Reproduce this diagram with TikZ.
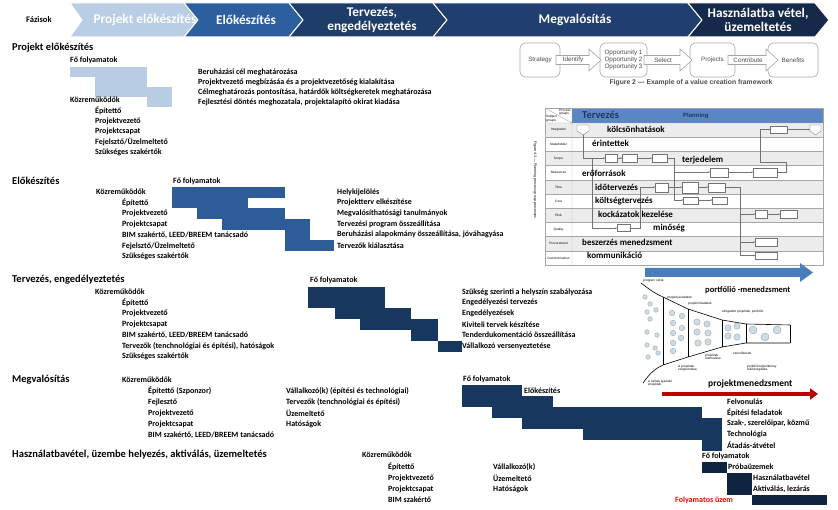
\documentclass[tikz,border=0pt]{standalone}
\usepackage{fontspec}
\setmainfont{Carlito}
\newfontfamily\arialfont{Liberation Sans}
\usetikzlibrary{positioning,calc,arrows.meta,shapes.geometric}

\definecolor{fazlight}{HTML}{B9CDE5}
\definecolor{fazmid}{HTML}{2D5E9E}
\definecolor{fazdark}{HTML}{1E3D68}
\definecolor{fazmeg}{HTML}{203F70}
\definecolor{fazhasz}{HTML}{15294A}
\definecolor{barlight}{HTML}{B8CCE4}
\definecolor{barmid}{HTML}{2E5C99}
\definecolor{bardark}{HTML}{17375E}
\definecolor{bardeep}{HTML}{0F2441}
\definecolor{tblblue}{HTML}{5B86C6}
\definecolor{tblgray}{HTML}{ECECEC}
\definecolor{tblnavy}{HTML}{1F3864}
\definecolor{arrblue}{HTML}{4A7EBB}
\definecolor{pmred}{HTML}{C00000}
\definecolor{bubble}{HTML}{C9DCE8}

\tikzset{
  txt/.style={anchor=west, inner sep=0, font=\fontsize{8}{9}\selectfont\bfseries},
  sect/.style={anchor=west, inner sep=0, font=\fontsize{10.5}{12}\selectfont\bfseries},
  phase/.style={inner sep=0, text=white, align=center, font=\fontsize{13.3}{14.5}\selectfont\bfseries},
  chev/.style={draw=white, line width=1pt},
  over/.style={anchor=west, inner sep=0, font=\fontsize{9}{10}\selectfont\bfseries},
  tiny/.style={inner sep=0, font=\arialfont\fontsize{3.2}{3.6}\selectfont, align=left},
  vbox/.style={draw=gray!70, rounded corners=5pt, line width=0.6pt},
  vtxt/.style={inner sep=0, text=black!70, align=center, font=\arialfont\fontsize{6.3}{7}\selectfont},
  varrow/.style={draw=gray!70, fill=white, line width=0.6pt},
  pbox/.style={draw=black!55, line width=0.3pt, fill=white},
  pline/.style={draw=black!55, line width=0.3pt, -{Stealth[length=1.5pt, width=1.5pt]}},
  bub/.style={draw=gray!80, fill=bubble, line width=0.3pt}
}

\begin{document}
\begin{tikzpicture}[x=1pt, y=-1pt]
\useasboundingbox (0,0) rectangle (838,510);

% fazisok
\node[txt, font=\fontsize{8.5}{9}\selectfont\bfseries] (faz) at (26,20) {Fázisok};
\filldraw[chev, fill=fazlight] (70,3) -- (184,3) -- (198,20) -- (184,37) -- (70,37) -- (82,20) -- cycle;
\node[phase] (ph1) at (145,20) {Projekt előkészítés};
\filldraw[chev, fill=fazmid] (184,3) -- (289,3) -- (303,20) -- (289,37) -- (184,37) -- (198,20) -- cycle;
\node[phase] (ph2) at (246,20) {Előkészítés};
\filldraw[chev, fill=fazdark] (289,3) -- (433,3) -- (447,20) -- (433,37) -- (289,37) -- (303,20) -- cycle;
\node[phase] (ph3) at (372,20) {Tervezés,\\engedélyeztetés};
\filldraw[chev, fill=fazmeg] (433,3) -- (688,3) -- (702,20) -- (688,37) -- (433,37) -- (447,20) -- cycle;
\node[phase] (ph4) at (575,20) {Megvalósítás};
\filldraw[chev, fill=fazhasz] (688,3) -- (815,3) -- (829,20) -- (815,37) -- (688,37) -- (702,20) -- cycle;
\node[phase] (ph5) at (758,20) {Használatba vétel,\\üzemeltetés};

% projekt elokeszites
\node[sect] (pe-cim) at (12,48) {Projekt előkészítés};
\node[txt] (pe-fo) at (70,60) {Fő folyamatok};
\fill[barlight] (70,67) rectangle (147,77);
\fill[barlight] (95,77) rectangle (147,87);
\fill[barlight] (95,87) rectangle (172,97);
\fill[barlight] (147,97) rectangle (172,107);
\foreach \t [count=\i] in {Beruházási cél meghatározása,
    Projektvezető megbízásáa és a projektvezetőség kialakítása,
    {Célmeghatározás pontosítása, határdők költségkeretek meghatározása},
    {Fejlesztési döntés meghozatala, projektalapító okirat kiadása}}
  \node[txt] (pe-f\i) at (198,{62+10*\i}) {\t};
\node[txt] (pe-kozr) at (70,100) {Közreműködők};
\foreach \t [count=\i] in {Építettő, Projektvezető, Projektcsapat, Fejelsztő/Üzelmeltető, Szükséges szakértők}
  \node[txt] (pe-k\i) at (95,{100+10.5*\i}) {\t};

% elokeszites
\node[sect] (el-cim) at (12,181) {Előkészítés};
\node[txt] (el-fo) at (173,181) {Fő folyamatok};
\node[txt] (el-kozr) at (96,192) {Közreműködők};
\foreach \t [count=\i] in {Építettő, Projektvezető, Projektcsapat, {BIM szakértő, LEED/BREEM tanácsadó},
    Fejelsztő/Üzelmeltető, Szükséges szakértők}
  \node[txt] (el-k\i) at (122,{192+10.7*\i}) {\t};
\fill[barmid] (172,187) rectangle (285,198);
\fill[barmid] (172,198) rectangle (248,208);
\fill[barmid] (197,208) rectangle (285,219);
\fill[barmid] (222,219) rectangle (310,230);
\fill[barmid] (285,230) rectangle (310,240);
\fill[barmid] (285,240) rectangle (334,251);
\foreach \t [count=\i] in {Helykijelölés, Projektterv elkészítése, Megvalósíthatósági tanulmányok,
    Tervezési program összeállítása, {Beruházási alapokmány összeállítása, jóváhagyása}, Tervezők kiálasztása}
  \node[txt] (el-f\i) at (337,{181.3+10.7*\i}) {\t};

% tervezes
\node[sect] (te-cim) at (12,280) {Tervezés, engedélyeztetés};
\node[txt] (te-fo) at (310,280) {Fő folyamatok};
\node[txt] (te-kozr) at (95,292) {Közreműködők};
\foreach \t [count=\i] in {Építettő, Projektvezető, Projektcsapat, {BIM szakértő, LEED/BREEM tanácsadó},
    {Tervezők (tenchnológiai és építési), hatóságok}, Szükséges szakértők}
  \node[txt] (te-k\i) at (122,{292+10.8*\i}) {\t};
\fill[bardark] (308,287) rectangle (385,308);
\fill[bardark] (335,308) rectangle (411,319);
\fill[bardark] (360,319) rectangle (438,330);
\fill[bardark] (411,330) rectangle (438,341);
\fill[bardark] (438,341) rectangle (462,352);
\foreach \t [count=\i] in {Szükség szerinti a helyszín szabályozása, Engedélyezési tervezés, Engedélyezések,
    Kiviteli tervek készítése, Tenderdukomentáció összeállítása, Vállalkozó versenyeztetése}
  \node[txt] (te-f\i) at (462,{281.2+10.8*\i}) {\t};

% megvalositas
\node[sect] (me-cim) at (12,380) {Megvalósítás};
\node[txt] (me-kozr) at (122,380) {Közreműködők};
\foreach \t [count=\i] in {Építettő (Szponzor), Fejlesztő, Projektvezető, Projektcsapat,
    {BIM szakértő, LEED/BREEM tanácsadó}}
  \node[txt] (me-k\i) at (148,{380+11*\i}) {\t};
\foreach \t [count=\i] in {Vállalkozó(k) (építési és technológiai), Tervezők (tenchnológiai és építési),
    Üzemeltető, Hatóságok}
  \node[txt] (me-v\i) at (286,{380+11*\i}) {\t};
\node[txt] (me-fo) at (463,379) {Fő folyamatok};
\fill[bardark] (462,385) rectangle (522,396);
\fill[bardark] (462,396) rectangle (553,407);
\fill[bardark] (492,407) rectangle (702,418);
\fill[bardark] (522,418) rectangle (722,429);
\fill[bardark] (583,429) rectangle (722,440);
\fill[bardark] (702,440) rectangle (722,451);
\node[txt] (me-el) at (524,391) {Előkészítés};
\foreach \t [count=\i] in {Felvonulás, Építési feladatok, {Szak-, szerelőipar, közmű}, Technológia, Átadás-átvétel}
  \node[txt] (me-f\i) at (727,{391+10.8*\i}) {\t};

% hasznalatbavetel
\node[sect] (ha-cim) at (12,455) {Használatbavétel, üzembe helyezés, aktiválás, üzemeltetés};
\node[txt] (ha-kozr) at (362,455) {Közreműködők};
\foreach \t [count=\i] in {Építettő, Projektvezető, Projektcsapat, BIM szakértő}
  \node[txt] (ha-k\i) at (388,{456+11*\i}) {\t};
\foreach \t [count=\i] in {Vállalkozó(k), Üzemeltető, Hatóságok}
  \node[txt] (ha-v\i) at (493,{456+11*\i}) {\t};
\node[txt] (ha-fo) at (702,456) {Fő folyamatok};
\fill[bardeep] (702,462) rectangle (727,473);
\fill[bardeep] (727,473) rectangle (752,495);
\fill[bardeep] (752,495) rectangle (827,505);
\node[txt] (ha-f1) at (728,467) {Próbaüzemek};
\node[txt] (ha-f2) at (753,478) {Használatbavétel};
\node[txt] (ha-f3) at (753,489) {Aktiválás, lezárás};
\node[txt, text=red] (ha-uz) at (675,500) {Folyamatos üzem};

% value creation framework
\draw[vbox] (520,43) rectangle (560,77);
\draw[vbox] (600,43) rectangle (647,77);
\draw[vbox] (690,43) rectangle (735,77);
\draw[vbox] (768,43) rectangle (818,77);
\filldraw[varrow] (556,55.5) -- (589,55.5) -- (589,49) -- (601,60) -- (589,71) -- (589,64.5) -- (556,64.5) -- cycle;
\filldraw[varrow] (644,55.5) -- (680,55.5) -- (680,49) -- (692,60) -- (680,71) -- (680,64.5) -- (644,64.5) -- cycle;
\filldraw[varrow] (728,55.5) -- (766,55.5) -- (766,49) -- (778,60) -- (766,71) -- (766,64.5) -- (728,64.5) -- cycle;
\node[vtxt] (vc-str) at (540,60) {Strategy};
\node[vtxt] (vc-idf) at (573,60) {Identify};
\node[vtxt] (vc-opp) at (623.5,60) {Opportunity 1\\Opportunity 2\\Opportunity 3};
\node[vtxt] (vc-sel) at (663,60) {Select};
\node[vtxt] (vc-prj) at (712.5,60) {Projects};
\node[vtxt] (vc-con) at (748,60) {Contribute};
\node[vtxt] (vc-ben) at (793,60) {Benefits};
\node[vtxt, font=\arialfont\bfseries\fontsize{6.8}{7.5}\selectfont] (vc-cap) at (691,83) {Figure 2 — Example of a value creation framework};

% planning table
\fill[tblblue] (572,108) rectangle (823,123);
\foreach \r in {0,2,4,6,8}
  \fill[tblgray] (545,{123+14.2*\r}) rectangle (823,{137.2+14.2*\r});
\foreach \r in {1,...,9}
  \draw[gray!70, line width=0.3pt] (545,{123+14.2*\r}) -- (823,{123+14.2*\r});
\draw[gray!70, line width=0.4pt] (545,108) rectangle (823,265);
\draw[gray!70, line width=0.4pt] (545,123) -- (823,123) (572,108) -- (572,265) (545,108) -- (572,123);
\node[tiny, anchor=north east] (pt-pg) at (571,109) {Process\\groups};
\node[tiny, anchor=south west] (pt-sg) at (546,122) {Subject\\groups};
\foreach \n [count=\i] in {Integration, Stakeholder, Scope, Resources, Time, Cost, Risk, Quality,
    Procurement, Communication}
  \node[tiny] (pt-r\i) at (558.5,{115.9+14.2*\i}) {\n};
\node[tiny, rotate=-90, font=\arialfont\fontsize{3.6}{4}\selectfont] (pt-cap) at (535,180)
  {Figure 4-3 — Planning process group processes};
% process boxes
\draw[pbox] (577,125) -- (589,125) -- (589,131) -- (583,135) -- (577,131) -- cycle;
\draw[pbox] (810,125) -- (821,125) -- (821,131) -- (815.5,135) -- (810,131) -- cycle;
\foreach \a/\b/\c/\d in {770/126/787/133, 605/154/617/162, 622/154/637/162, 652/154/667/162,
    710/168/728/177, 753/168/777/177, 655/183/668/192, 682/182/698/193, 708/183/725/192,
    683/197/698/204, 712/197/727/204, 755/210/767/218, 780/210/797/218, 617/224/630/231,
    755/238/777/246, 755/252/777/259}
  \draw[pbox] (\a,\b) rectangle (\c,\d);
\draw[pline] (583,135) -- (583,158) -- (605,158);
\draw[pline] (617,158) -- (622,158);
\draw[pline] (637,158) -- (652,158);
\draw[pline] (592,158) -- (592,228) -- (617,228);
\draw[pline] (630,228) -- (640,228) -- (640,187) -- (655,187);
\draw[pline] (667,158) -- (674,158) -- (674,172) -- (710,172);
\draw[pline] (674,172) -- (674,200) -- (683,200);
\draw[pline] (668,187) -- (682,187);
\draw[pline] (698,187) -- (708,187);
\draw[pline] (698,200) -- (712,200);
\draw[pline] (728,172) -- (753,172);
\draw[pline] (777,172) -- (786,172) -- (786,162) -- (760,162) -- (760,129.5) -- (770,129.5);
\draw[pline] (787,129.5) -- (810,129.5);
\draw[pline] (725,187) -- (740,187) -- (740,255.5) -- (755,255.5);
\draw[pline] (740,214) -- (755,214);
\draw[pline] (740,242) -- (755,242);
\draw[pline] (767,214) -- (780,214);
% overlay labels
\node[over, font=\fontsize{10.5}{12}\selectfont\bfseries, text=tblnavy] (pt-terv) at (582,115) {Tervezés};
\node[over, font=\arialfont\bfseries\fontsize{6}{7}\selectfont, text=tblnavy] (pt-plan) at (683,116) {Planning};
\node[over] (pt-o1) at (607,129) {kölcsönhatások};
\node[over] (pt-o2) at (592,143) {érintettek};
\node[over] (pt-o3) at (682,160) {terjedelem};
\node[over] (pt-o4) at (582,173) {erőforrások};
\node[over] (pt-o5) at (595,187) {időtervezés};
\node[over] (pt-o6) at (595,201) {költségtervezés};
\node[over] (pt-o7) at (598,214) {kockázatok kezelése};
\node[over] (pt-o8) at (653,228) {minőség};
\node[over] (pt-o9) at (582,242) {beszerzés menedzsment};
\node[over] (pt-o10) at (587,255) {kommunikáció};

% portfolio arrow
\fill[arrblue] (645,268) -- (800,268) -- (800,263) -- (813,272.5) -- (800,282) -- (800,277) -- (645,277) -- cycle;

% funnel
\draw[line width=0.6pt] (641,283) .. controls (650,290) and (656,294) .. (663,297) -- (688,309) -- (722,320) -- (746,324) -- (790,325);
\draw[line width=0.6pt] (643,383) .. controls (650,373) and (656,368) .. (663,365) -- (688,357) -- (722,347) -- (746,343) -- (790,343);
\draw[line width=0.6pt] (663,297) -- (663,365) (688,309) -- (688,357) (722,320) -- (722,347)
  (746,324) -- (746,343) (790,325) -- (790,343);
\foreach \p/\q in {645/297, 650/304, 647/312, 656/310, 650/319, 647/332, 657/335, 647/345, 655/348, 648/357, 658/353}
  \filldraw[bub] (\p,\q) circle (2.3);
\foreach \p/\q in {672/313, 682/316, 673/323, 682/328, 673/333, 681/338, 673/343, 673/351}
  \filldraw[bub] (\p,\q) circle (2.8);
\foreach \p/\q in {697/322, 707/324, 697/332, 708/333, 698/343, 708/342}
  \filldraw[bub] (\p,\q) circle (3.2);
\foreach \p/\q in {728/328, 737/326, 728/336, 737/337}
  \filldraw[bub] (\p,\q) circle (3.2);
\foreach \p/\q in {753/330, 777/330, 765/337}
  \filldraw[bub] (\p,\q) circle (4);
\node[over, font=\fontsize{8.5}{9}\selectfont\bfseries] (pf-cim) at (705,290) {portfólió -menedzsment};
\node[tiny, anchor=west] (pf-l1) at (643,281) {program célok};
\node[tiny, anchor=west] (pf-l2) at (667,298) {projekt javaslatok};
\node[tiny, anchor=west] (pf-l3) at (688,304) {projekt feladatok};
\node[tiny, anchor=west] (pf-l4) at (722,312) {elfogadott projektek, portfólió};
\node[tiny, anchor=west] (pf-l5) at (705,357) {projektek\\ütemezése};
\node[tiny, anchor=west] (pf-l6) at (733,353) {szerződések};
\node[tiny, anchor=west] (pf-l7) at (678,368) {A projektek\\rangsorolása};
\node[tiny, anchor=west] (pf-l8) at (747,368) {portfólió teljesítmény\\felülvizsgálata};
\node[tiny, anchor=west] (pf-l9) at (648,383) {a célnak igazodó\\projektek};

% projektmenedzsment arrow
\coordinate (pm-a) at (662,394);
\coordinate (pm-b) at (818,394);
\draw[pmred, line width=4.5pt, -{Triangle[length=8pt, width=11pt]}] (pm-a) -- (pm-b);
\node[over, font=\fontsize{9.5}{10}\selectfont\bfseries] (pm-cim) at (708,384) {projektmenedzsment};
\end{tikzpicture}
\end{document}
